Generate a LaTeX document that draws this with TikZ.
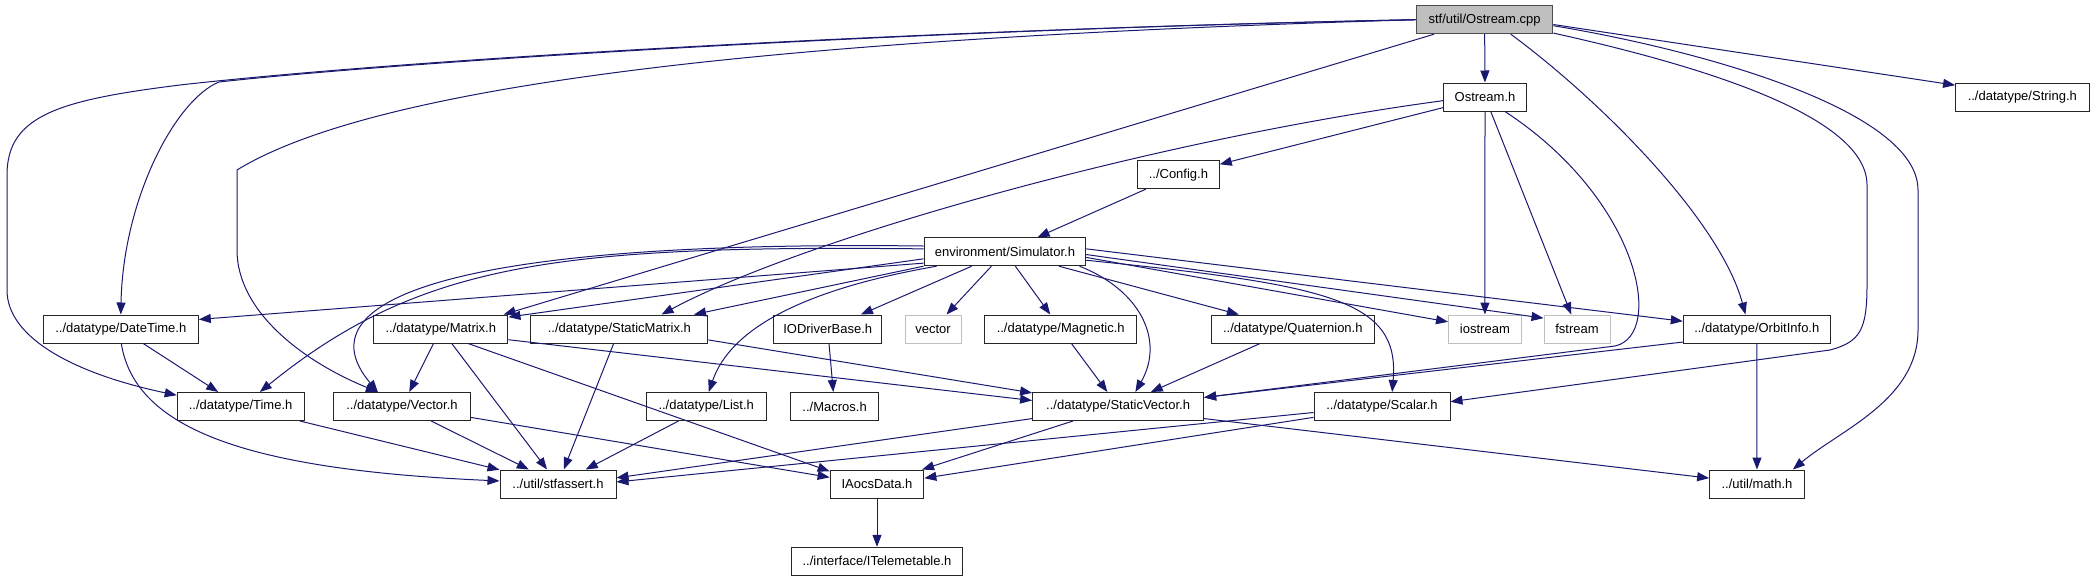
\documentclass[tikz,border=0pt]{standalone}
\usepackage{fontspec}
\setmainfont{Liberation Sans}
\usetikzlibrary{arrows.meta}
\definecolor{edgeblue}{RGB}{25,25,112}
\definecolor{boxgray}{RGB}{191,191,191}

\begin{document}
\begin{tikzpicture}[
        x=1pt, y=-1pt,
        font=\fontsize{13}{15}\selectfont,
        filebox/.style={draw=black!85, line width=1pt, fill=white, minimum height=28pt, inner sep=0pt},
        sysbox/.style={filebox, draw=boxgray},
        srcbox/.style={filebox, fill=boxgray, draw=black!70},
        incl/.style={draw=edgeblue, line width=1pt, -{Triangle[length=12pt,width=9pt]}},
    ]
        \useasboundingbox (0,0) rectangle (2094,581);

        % Source file and its direct headers
        \node[srcbox, minimum width=136.6pt] (cpp) at (1484.6,19.7) {stf/util/Ostream.cpp};
        \node[filebox, minimum width=83pt] (ostreamh) at (1485,97) {Ostream.h};
        \node[filebox, minimum width=133.4pt] (stringh) at (2022.3,97) {../datatype/String.h};
        \node[filebox, minimum width=81.7pt] (config) at (1178.4,174.7) {../Config.h};
        \node[filebox, minimum width=161.7pt] (sim) at (1004.9,251.7) {environment/Simulator.h};

        % Row of headers under the simulator
        \node[filebox, minimum width=155pt] (datetime) at (120.8,329) {../datatype/DateTime.h};
        \node[filebox, minimum width=134.3pt] (matrix) at (440.8,329) {../datatype/Matrix.h};
        \node[filebox, minimum width=177pt] (smatrix) at (619.4,329) {../datatype/StaticMatrix.h};
        \node[filebox, minimum width=108pt] (iodriver) at (827.7,329) {IODriverBase.h};
        \node[sysbox, minimum width=56pt] (vectorstd) at (933,329) {vector};
        \node[filebox, minimum width=151.8pt] (magnetic) at (1060.7,329) {../datatype/Magnetic.h};
        \node[filebox, minimum width=162.4pt] (quaternion) at (1292.8,329) {../datatype/Quaternion.h};
        \node[sysbox, minimum width=72.7pt] (iostream) at (1484.9,329) {iostream};
        \node[sysbox, minimum width=66pt] (fstream) at (1577,329) {fstream};
        \node[filebox, minimum width=147pt] (orbit) at (1756.8,329) {../datatype/OrbitInfo.h};

        \node[filebox, minimum width=126.8pt] (timeh) at (240.6,406.5) {../datatype/Time.h};
        \node[filebox, minimum width=137pt] (vectorh) at (402,406.5) {../datatype/Vector.h};
        \node[filebox, minimum width=119.6pt] (listh) at (706.2,406.5) {../datatype/List.h};
        \node[filebox, minimum width=88pt] (macros) at (834.6,406.5) {../Macros.h};
        \node[filebox, minimum width=171pt] (svector) at (1118.1,406.5) {../datatype/StaticVector.h};
        \node[filebox, minimum width=136pt] (scalar) at (1382,406.5) {../datatype/Scalar.h};

        % Bottom rows
        \node[filebox, minimum width=116pt] (stfassert) at (558,484) {../util/stfassert.h};
        \node[filebox, minimum width=93.7pt] (iaocs) at (877,484) {IAocsData.h};
        \node[filebox, minimum width=94.7pt] (mathh) at (1757,484) {../util/math.h};
        \node[filebox, minimum width=171pt] (itele) at (877,561.3) {../interface/ITelemetable.h};

        % Straight includes
        \foreach \a/\b in {cpp/ostreamh, cpp.-4/stringh.170, cpp.196/matrix.13,
                ostreamh/config, ostreamh/iostream, ostreamh/fstream, config/sim,
                sim.188/datetime.7, sim.185/matrix.10, sim.south west/smatrix.11,
                sim/iodriver, sim/vectorstd, sim/magnetic, sim/quaternion,
                sim.-4/iostream.169, sim.-2/fstream.162, sim.2/orbit.174,
                datetime/timeh, timeh/stfassert, vectorh/stfassert, vectorh.-9/iaocs.172,
                matrix/vectorh, matrix/stfassert, matrix.-28/iaocs.165, matrix.-9/svector.176,
                smatrix/stfassert, smatrix.-7/svector.171, listh/stfassert, iodriver/macros,
                magnetic/svector, quaternion/svector, orbit.190/svector.6, orbit/mathh,
                svector.188/stfassert.6, svector/iaocs, svector.-8/mathh.173,
                scalar.185/stfassert.2, scalar.189/iaocs.7, iaocs/itele} {
            \draw[incl] (\a) -- (\b);
        }

        % Long curves from the source file
        \draw[incl] (cpp.west) .. controls (900,30) and (400,62) .. (219,82)
            .. controls (175,100) and (123,200) .. (datetime.north);
        \draw[incl] (cpp.west) .. controls (900,30) and (400,60) .. (180,85)
            .. controls (60,100) and (7,115) .. (7,175) -- (7,290)
            .. controls (7,340) and (80,375) .. (timeh.170);
        \draw[incl] (cpp.west) .. controls (900,35) and (400,70) .. (237,170) -- (237,250)
            .. controls (237,310) and (300,360) .. (vectorh.149);
        \draw[incl] (cpp.-29) .. controls (1600,100) and (1720,220) .. (orbit.128);
        \draw[incl] (cpp.-11) .. controls (1720,70) and (1867,120) .. (1867,185) -- (1867,285)
            .. controls (1867,330) and (1860,342) .. (1830,350) -- (scalar.4);
        \draw[incl] (cpp.-5) .. controls (1700,50) and (1918,110) .. (1918,190) -- (1918,330)
            .. controls (1918,400) and (1840,430) .. (mathh.22);

        % Curves from Ostream.h
        \draw[incl] (ostreamh.185) .. controls (1150,140) and (800,240) .. (smatrix.19);
        \draw[incl] (ostreamh.-36) .. controls (1640,200) and (1665,335) .. (1615,346) -- (svector.6);

        % Curves from the simulator
        \draw[incl] (sim.178) .. controls (560,245) and (420,262) .. (timeh.37);
        \draw[incl] (sim.176) .. controls (450,240) and (300,300) .. (vectorh.149);
        \draw[incl] (sim.192) .. controls (800,290) and (730,330) .. (listh.80);
        \draw[incl] (sim.-11) .. controls (1140,290) and (1165,340) .. (svector.40);
        \draw[incl] (sim.-6) .. controls (1330,285) and (1400,300) .. (scalar.55);

        % DateTime.h down to stfassert.h
        \draw[incl] (datetime.-88) .. controls (135,430) and (250,470) .. (stfassert.177);
    \end{tikzpicture}
\end{document}
